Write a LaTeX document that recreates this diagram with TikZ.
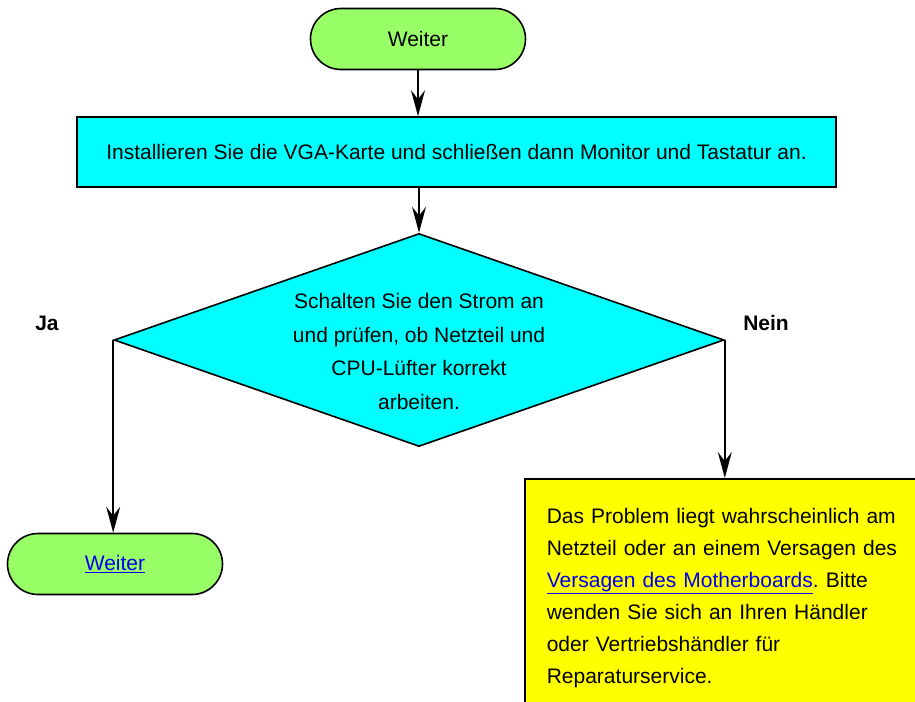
\documentclass[tikz,border=0pt]{standalone}
\usepackage{fontspec}
\setmainfont{Liberation Sans}
\usetikzlibrary{arrows.meta,shapes.geometric,shapes.misc,positioning}

\definecolor{termgreen}{HTML}{99FF66}
\definecolor{stepcyan}{HTML}{00FFFF}
\definecolor{noteyellow}{HTML}{FFFF00}
\definecolor{linkblue}{HTML}{0000EE}

\newcommand{\weblink}[1]{\textcolor{linkblue}{\underline{#1}}}

\tikzset{
  term/.style={rounded rectangle, draw, line width=1.6pt, fill=termgreen,
    minimum width=215pt, minimum height=61pt, inner sep=0pt},
  stepbox/.style={rectangle, draw, line width=1.6pt, fill=stepcyan,
    minimum width=759pt, minimum height=70pt, inner sep=0pt},
  decision/.style={diamond, draw, line width=1.6pt, fill=stepcyan,
    minimum width=610pt, minimum height=213pt, inner sep=0pt},
  notebox/.style={rectangle, draw, line width=1.6pt, fill=noteyellow,
    text width=380pt, inner xsep=22pt, inner ysep=29pt, align=left},
  flow/.style={line width=1.6pt, -{Stealth[length=26pt,width=14pt,inset=9pt]}},
  answer/.style={font=\bfseries},
}

\begin{document}
\frenchspacing
\fontsize{21}{32}\selectfont
\begin{tikzpicture}[x=1pt,y=-1pt]
  \clip (0,0) rectangle (915,701);
  \fill[white] (0,0) rectangle (915,701);

  % Ablauf von oben nach unten
  \node[term] (start) at (418,39) {Weiter};
  \node[stepbox] (install) at (456.5,152)
    {Installieren Sie die VGA-Karte und schließen dann Monitor und Tastatur an.};
  \node[decision] (check) at (419,340) {};
  \node[align=center, font=\fontsize{21}{33.7}\selectfont] (checktext) at (419,351.5)
    {Schalten Sie den Strom an\\und prüfen, ob Netzteil und\\CPU-Lüfter korrekt\\arbeiten.};

  \node[answer] (ja) at (47,323) {Ja};
  \node[answer] (nein) at (766,323) {Nein};

  \node[term] (next) at (115,564) {\weblink{Weiter}};
  \node[notebox, anchor=north west] (psu) at (524,478)
    {Das Problem liegt wahrscheinlich am\\
     Netzteil oder an einem Versagen des\\
     \weblink{Versagen des Motherboards}. Bitte\\
     wenden Sie sich an Ihren Händler\\
     oder Vertriebshändler für\\
     Reparaturservice.};

  \draw[flow] (start.south) -- (start.south |- install.north);
  \draw[flow] (install.south -| check.north) -- (check.north);
  \draw[flow] (check.west) -- (check.west |- next.north);
  \draw[flow] (check.east) -- (check.east |- psu.north);
\end{tikzpicture}
\end{document}
